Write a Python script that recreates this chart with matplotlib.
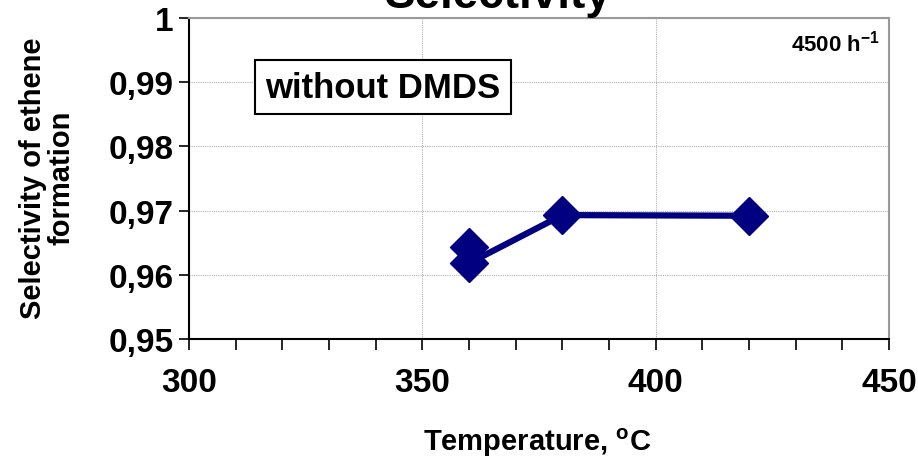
import matplotlib
matplotlib.use("Agg")
import matplotlib.pyplot as plt
from matplotlib.ticker import MultipleLocator, FixedLocator

temperature = [360, 360, 380, 420]
selectivity = [0.9643, 0.9618, 0.9693, 0.9692]
x_ticks = [300, 350, 400, 450]
y_ticks = [0.95, 0.96, 0.97, 0.98, 0.99, 1.0]
y_tick_labels = ["0,95", "0,96", "0,97", "0,98", "0,99", "1"]

FONT = "Liberation Sans"
W, H = 918, 464
fig = plt.figure(figsize=(W / 100, H / 100), dpi=100)
left, right, top, bottom = 189, 889, 19, 340
ax = fig.add_axes([left / W, 1 - bottom / H, (right - left) / W, (bottom - top) / H])

ax.plot(temperature, selectivity, color="#000080", lw=4.5, marker="D",
        markersize=19, markerfacecolor="#000080", markeredgecolor="#000080",
        zorder=3, clip_on=False)

ax.set_xlim(300, 450)
ax.set_ylim(0.95, 1.0)
ax.xaxis.set_major_locator(FixedLocator(x_ticks))
ax.xaxis.set_minor_locator(MultipleLocator(10))
ax.yaxis.set_major_locator(FixedLocator(y_ticks))
ax.set_yticklabels(y_tick_labels)
ax.set_xticklabels([str(v) for v in x_ticks])

for lab in ax.get_xticklabels() + ax.get_yticklabels():
    lab.set_fontfamily(FONT)
    lab.set_fontweight("bold")
    lab.set_fontsize(24)

ax.tick_params(axis="both", which="both", direction="out", color="black", width=1.2)
ax.tick_params(axis="x", which="major", length=8, pad=12)
ax.tick_params(axis="x", which="minor", length=8)
ax.tick_params(axis="y", which="major", length=7, pad=4)
ax.tick_params(axis="x", top=False)
ax.tick_params(axis="y", right=False)

ax.grid(True, which="major", color="#b0b0b0", lw=0.8, ls=(0, (1, 1)))
ax.set_axisbelow(True)
for s in ["left", "bottom"]:
    ax.spines[s].set_color("black")
    ax.spines[s].set_linewidth(1.5)
for s in ["top", "right"]:
    ax.spines[s].set_color("#999999")
    ax.spines[s].set_linewidth(1.5)

fig.text(537 / W, 1 - 443 / H, "Temperature, $\\mathregular{^{o}}$C", ha="center",
         va="center", fontfamily=FONT, fontweight="bold", fontsize=21)
fig.text(47 / W, 1 - 178 / H, "Selectivity of ethene\nformation", rotation=90,
         ha="center", va="center", fontfamily=FONT,
         fontweight="bold", fontsize=21, linespacing=1.0)

fig.text(498 / W, 1 - 8 / H, "Selectivity", ha="center", va="baseline",
         fontfamily=FONT, fontweight="bold", fontsize=33)

ax.text((383 - left) / (right - left), (bottom - 88) / (bottom - top), "without DMDS",
        transform=ax.transAxes, ha="center", va="center", fontfamily=FONT,
        fontweight="bold", fontsize=25,
        bbox=dict(boxstyle="square,pad=0.3", facecolor="white",
                  edgecolor="black", lw=1.5))
ax.text((880 - left) / (right - left), (bottom - 44) / (bottom - top),
        "4500 h$\\mathregular{^{-1}}$", transform=ax.transAxes,
        ha="right", va="center", fontfamily=FONT,
        fontweight="bold", fontsize=16)

fig.savefig("out.png", dpi=100)
